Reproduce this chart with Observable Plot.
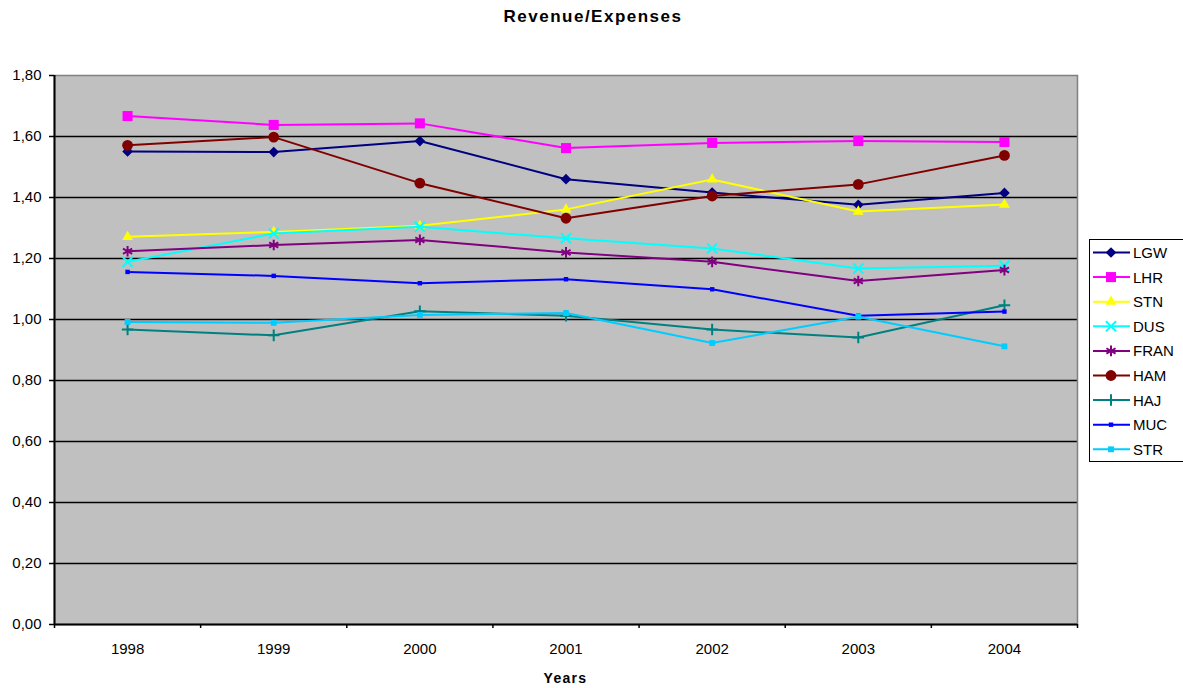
<!DOCTYPE html>
<html><head><meta charset="utf-8">
<script src="https://cdn.jsdelivr.net/npm/d3@7"></script>
<script src="https://cdn.jsdelivr.net/npm/@observablehq/plot@0.6"></script>
<style>
body{margin:0;background:#fff;overflow:hidden;font-family:"Liberation Sans",Arial,sans-serif;}
#wrap{position:relative;width:1183px;height:688px;overflow:hidden;background:#fff;}
#chart{position:absolute;left:0;top:0;}
#title{position:absolute;left:0;top:7.5px;width:1183px;text-align:center;font-weight:bold;font-size:17px;line-height:17px;letter-spacing:1.5px;padding-left:3px;box-sizing:border-box;}
#xlabel{position:absolute;left:54px;top:671px;width:1023px;text-align:center;font-weight:bold;font-size:14px;line-height:14px;letter-spacing:1.3px;}
#legend{position:absolute;left:1089px;top:239px;}
</style>
</head><body>
<div id="wrap">
  <div id="chart"></div>
  <div id="title">Revenue/Expenses</div>
  <div id="xlabel">Years</div>
  <div id="legend"></div>
</div>
<script>
// ---- data ----
const years = [1998, 1999, 2000, 2001, 2002, 2003, 2004];
const yTicks = [0, 0.2, 0.4, 0.6, 0.8, 1.0, 1.2, 1.4, 1.6, 1.8];
const seriesNames = ["LGW", "LHR", "STN", "DUS", "FRAN", "HAM", "HAJ", "MUC", "STR"];
const LGW  = [1.551, 1.549, 1.585, 1.460, 1.416, 1.376, 1.415];
const LHR  = [1.667, 1.638, 1.643, 1.562, 1.579, 1.585, 1.582];
const STN  = [1.271, 1.287, 1.307, 1.361, 1.459, 1.354, 1.377];
const DUS  = [1.189, 1.282, 1.304, 1.266, 1.233, 1.167, 1.176];
const FRAN = [1.224, 1.244, 1.261, 1.220, 1.189, 1.126, 1.162];
const HAM  = [1.571, 1.598, 1.447, 1.332, 1.405, 1.443, 1.538];
const HAJ  = [0.967, 0.948, 1.027, 1.012, 0.967, 0.941, 1.047];
const MUC  = [1.156, 1.143, 1.119, 1.132, 1.099, 1.012, 1.026];
const STR  = [0.992, 0.989, 1.015, 1.021, 0.923, 1.009, 0.912];

// ---- styles ----
const seriesValues = {LGW, LHR, STN, DUS, FRAN, HAM, HAJ, MUC, STR};
const styles = {
  LGW:  {color: "#000080", symbol: "diamond2", r: 4.8, filled: true},
  LHR:  {color: "#FF00FF", symbol: "square2",  r: 6.4, filled: true},
  STN:  {color: "#FFFF00", symbol: "triangle", r: 4.0, filled: true},
  DUS:  {color: "#00FFFF", symbol: "times",    r: 4.7, filled: false},
  FRAN: {color: "#800080", symbol: "asterisk", r: 5.0, filled: false},
  HAM:  {color: "#800000", symbol: "circle",   r: 5.4, filled: true},
  HAJ:  {color: "#008080", symbol: "plus",     r: 3.8, filled: false},
  MUC:  {color: "#0000FF", symbol: "square",   r: 2.5, filled: true},
  STR:  {color: "#00CCFF", symbol: "square",   r: 3.3, filled: true}
};

const rows = seriesNames.flatMap(name =>
  seriesValues[name].map((v, i) => ({series: name, year: years[i], value: v})));

const bounds = d3.range(years.length + 1).map(i => years[0] - 0.5 + i);
const commaFmt = d => d3.format(".2f")(d).replace(".", ",");

const marks = [
  Plot.frame({fill: "#C0C0C0", stroke: null}),
  Plot.ruleY(yTicks.filter(v => v > 0 && v < 1.8), {stroke: "black", strokeWidth: 1.5}),
  Plot.frame({stroke: "#808080", strokeWidth: 1.5, fill: null}),
  Plot.ruleX([bounds[0]], {stroke: "black", strokeWidth: 2}),
  Plot.ruleY([0], {stroke: "black", strokeWidth: 2}),
  Plot.axisY({ticks: yTicks, tickSize: 5, tickPadding: 8, tickFormat: commaFmt, label: null, strokeWidth: 1.5}),
  Plot.axisX({ticks: years, tickSize: 0, tickPadding: 19, tickFormat: d => String(d), label: null}),
  Plot.axisX({ticks: bounds, tickSize: 4, tickFormat: () => "", label: null, strokeWidth: 1.5})
];
for (const name of seriesNames) {
  const s = styles[name];
  const data = rows.filter(d => d.series === name);
  marks.push(Plot.line(data, {x: "year", y: "value", stroke: s.color, strokeWidth: 2}));
  marks.push(Plot.dot(data, s.filled
    ? {x: "year", y: "value", symbol: () => s.symbol, r: s.r, fill: s.color, stroke: "none"}
    : {x: "year", y: "value", symbol: () => s.symbol, r: s.r, stroke: s.color, fill: "none", strokeWidth: 2}));
}

const chart = Plot.plot({
  width: 1183,
  height: 688,
  marginLeft: 54,
  marginRight: 106,
  marginTop: 75,
  marginBottom: 64,
  x: {domain: [bounds[0], bounds[bounds.length - 1]]},
  y: {domain: [0, 1.8]},
  symbol: {type: "identity"},
  style: {fontFamily: "'Liberation Sans', Arial, sans-serif", fontSize: "15px", background: "white", color: "black"},
  marks
});
document.getElementById("chart").appendChild(chart);

// ---- legend ----
const symbolTypes = {
  diamond2: d3.symbolDiamond2, square2: d3.symbolSquare2, triangle: d3.symbolTriangle,
  times: d3.symbolTimes, asterisk: d3.symbolAsterisk, circle: d3.symbolCircle,
  plus: d3.symbolPlus, square: d3.symbolSquare
};
const lg = d3.select("#legend").append("svg")
  .attr("width", 94).attr("height", 224)
  .style("font-family", "'Liberation Sans', Arial, sans-serif").style("font-size", "15px");
lg.append("rect").attr("x", 0.5).attr("y", 0.5).attr("width", 120).attr("height", 222)
  .attr("fill", "white").attr("stroke", "black").attr("stroke-width", 1);
seriesNames.forEach((name, i) => {
  const s = styles[name];
  const cy = 13.5 + i * 24.6;
  const g = lg.append("g").attr("transform", `translate(0,${cy})`);
  g.append("line").attr("x1", 4).attr("x2", 41).attr("stroke", s.color).attr("stroke-width", 2);
  const p = g.append("path").attr("transform", "translate(22,0)")
    .attr("d", d3.symbol(symbolTypes[s.symbol], Math.PI * s.r * s.r)());
  if (s.filled) p.attr("fill", s.color);
  else p.attr("fill", "none").attr("stroke", s.color).attr("stroke-width", 2);
  g.append("text").attr("x", 44).attr("y", 5.4).text(name);
});
</script>
</body></html>
